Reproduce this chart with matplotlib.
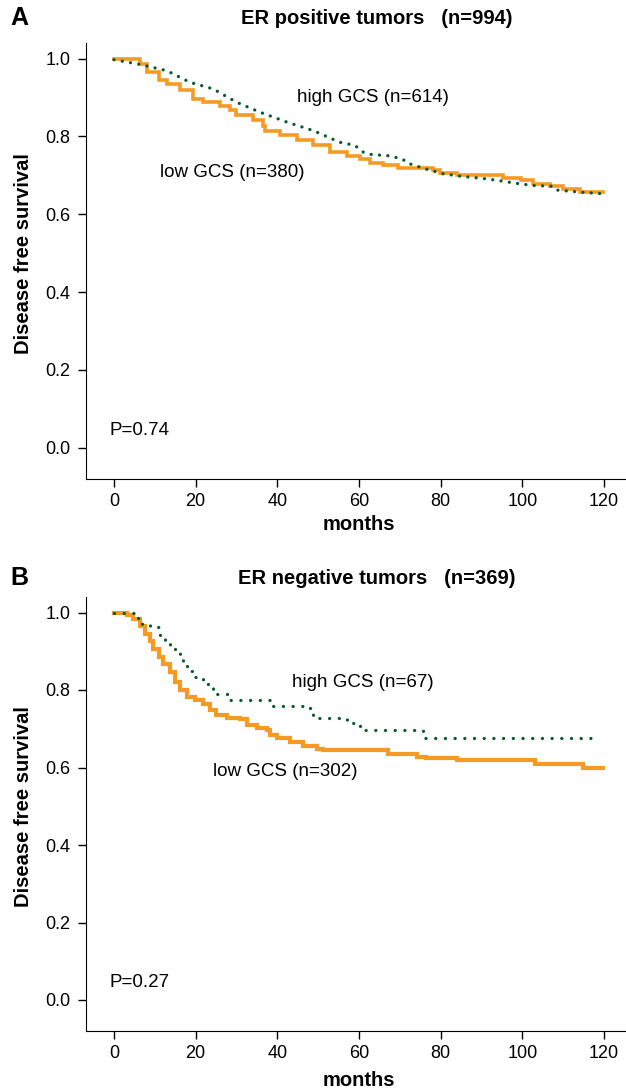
import matplotlib
matplotlib.use("Agg")
import matplotlib.pyplot as plt

plt.rcParams["font.family"] = ["Liberation Sans", "DejaVu Sans"]

ORANGE = "#F59A23"
GREEN = "#0D5A2C"

# Panel A: ER positive tumors
a_low_t = [0, 6.4, 8.0, 10.9, 12.9, 16.2, 19.4, 21.8, 26, 28.4, 30, 34, 36.5, 37,
           40.7, 44.7, 48.8, 52.9, 57, 60.2, 62.7, 65.9, 69.6, 78.1, 79.8, 83.9,
           95.3, 99.8, 102.6, 106.8, 110, 114.1, 119.8]
a_low_s = [1.0, 0.986, 0.965, 0.944, 0.935, 0.918, 0.897, 0.888, 0.879, 0.867,
           0.854, 0.841, 0.828, 0.815, 0.803, 0.79, 0.777, 0.76, 0.751, 0.743,
           0.733, 0.726, 0.72, 0.713, 0.707, 0.702, 0.694, 0.687, 0.679, 0.673,
           0.664, 0.657, 0.657]
a_high_t = [0, 6.4, 12.9, 18.6, 24.3, 30, 35.8, 42.3, 48.8, 55.3, 59, 61, 62.7,
            67.6, 70.8, 71.7, 76.2, 80.6, 85.5, 90.4, 94, 98.9, 102.6, 107.5,
            108.7, 114.1, 119.4]
a_high_s = [0.997, 0.985, 0.969, 0.939, 0.922, 0.888, 0.862, 0.837, 0.815, 0.785,
            0.777, 0.76, 0.754, 0.75, 0.741, 0.732, 0.717, 0.704, 0.697, 0.692,
            0.687, 0.679, 0.674, 0.672, 0.662, 0.657, 0.653]

# Panel B: ER negative tumors
b_low_t = [0, 3.1, 4.7, 6.4, 7.6, 8.8, 9.6, 10.9, 12.1, 13.7, 14.9, 16.2, 17.8,
           19.8, 21.9, 23.5, 25.1, 27.6, 30.8, 32.5, 34.9, 37.4, 38.2, 39.8, 43.1,
           46.3, 49.6, 51.3, 67.2, 74.1, 76.5, 83.9, 103.1, 114.9, 119.8]
b_low_s = [1.0, 0.993, 0.983, 0.966, 0.944, 0.927, 0.906, 0.885, 0.867, 0.846,
           0.821, 0.799, 0.782, 0.775, 0.765, 0.748, 0.735, 0.729, 0.725, 0.709,
           0.703, 0.697, 0.684, 0.675, 0.665, 0.656, 0.649, 0.644, 0.634, 0.628,
           0.624, 0.619, 0.61, 0.60, 0.60]
b_high_t = [0, 5.7, 6.8, 8.8, 11.3, 12.5, 13.7, 14.9, 16.2, 17, 17.8, 19.4, 21.9,
            24.3, 28, 38.9, 48, 48.8, 57, 60.2, 75.7, 118.2]
b_high_s = [1.0, 0.985, 0.968, 0.963, 0.94, 0.923, 0.915, 0.896, 0.88, 0.865,
            0.849, 0.833, 0.815, 0.79, 0.774, 0.759, 0.748, 0.728, 0.714, 0.697,
            0.675, 0.675]

panels = [
    ("A", "ER positive tumors   (n=994)", a_low_t, a_low_s, a_high_t, a_high_s,
     "low GCS (n=380)", "high GCS (n=614)", "P=0.74"),
    ("B", "ER negative tumors   (n=369)", b_low_t, b_low_s, b_high_t, b_high_s,
     "low GCS (n=302)", "high GCS (n=67)", "P=0.27"),
]
# label positions (month, survival)
low_pos = [(11.3, 0.708), (24.2, 0.59)]
high_pos = [(44.8, 0.90), (43.6, 0.82)]

fig = plt.figure(figsize=(6.26, 10.9), dpi=100)
axes_rects = [[86 / 626, 1 - 479 / 1090, 540 / 626, 436 / 1090],
              [86 / 626, 1 - 1031 / 1090, 540 / 626, 434 / 1090]]
title_y = [1 - 18 / 1090, 1 - 578 / 1090]
xlabel_y = [-0.083, -0.092]

for i, (letter, title, lt, ls, ht, hs, llab, hlab, ptxt) in enumerate(panels):
    ax = fig.add_axes(axes_rects[i])
    ax.step(lt, ls, where="post", color=ORANGE, lw=2.6 if i == 0 else 3.0,
            solid_joinstyle="miter")
    if i == 0:
        # many small steps in the large group: dots follow the slope
        ax.plot(ht, hs, color=GREEN, lw=2.4, linestyle=(0, (0.01, 2.5)),
                dash_capstyle="round")
    else:
        ax.step(ht, hs, where="post", color=GREEN, lw=2.4,
                linestyle=(0, (0.01, 2.9)), dash_capstyle="round")

    ax.set_xlim(-6.86, 125.4)
    ax.set_ylim(-0.08, 1.04)
    ax.set_xticks([0, 20, 40, 60, 80, 100, 120])
    ax.set_yticks([0.0, 0.2, 0.4, 0.6, 0.8, 1.0])
    ax.set_yticklabels(["0.0", "0.2", "0.4", "0.6", "0.8", "1.0"])
    ax.tick_params(direction="out", length=6, width=1, labelsize=13, pad=4)
    ax.tick_params(axis="y", pad=5)
    for side in ["top", "right"]:
        ax.spines[side].set_visible(False)

    ax.set_xlabel("months", fontsize=14.5, fontweight="bold")
    ax.xaxis.set_label_coords(0.5055, xlabel_y[i])
    ax.set_ylabel("Disease free survival", fontsize=14.5, fontweight="bold")
    ax.yaxis.set_label_coords(-0.098, 0.518)

    ax.text(low_pos[i][0], low_pos[i][1], llab, fontsize=13.5, va="center")
    ax.text(high_pos[i][0], high_pos[i][1], hlab, fontsize=13.5, va="center")
    ax.text(-1.0, 0.045, ptxt, fontsize=13.5, va="center")

    fig.text(377 / 626, title_y[i], title, fontsize=14.5, fontweight="bold",
             ha="center", va="center")
    fig.text(10 / 626, title_y[i], letter, fontsize=18, fontweight="bold",
             ha="left", va="center")

fig.savefig("out.png", dpi=100)
